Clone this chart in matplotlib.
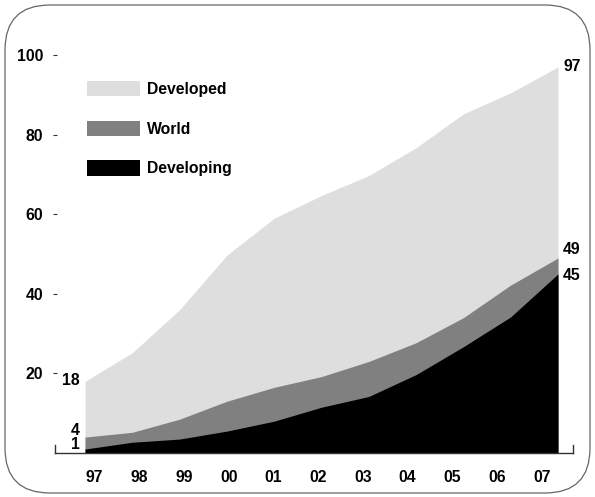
import numpy as np
import matplotlib
matplotlib.use("Agg")
import matplotlib.pyplot as plt
from matplotlib.patches import FancyBboxPatch, Patch
from matplotlib.transforms import IdentityTransform

years = ["97", "98", "99", "00", "01", "02", "03", "04", "05", "06", "07"]
developed = [18, 25.2, 36, 49.7, 59, 64.7, 69.7, 76.7, 85.2, 90.5, 97]
world = [4, 5.2, 8.5, 13, 16.5, 19.2, 23, 27.7, 34, 42.2, 49]
developing = [1, 2.7, 3.5, 5.5, 8, 11.5, 14.2, 19.7, 26.7, 34.2, 45]

series = [("Developed", developed, "#dedede"),
          ("World", world, "#808080"),
          ("Developing", developing, "#000000")]

plt.rcParams["font.family"] = ["Liberation Sans", "DejaVu Sans"]
plt.rcParams["font.weight"] = "bold"
FS = 11.3

W, H = 595, 497
fig = plt.figure(figsize=(W / 100, H / 100), dpi=100)

# rounded frame in pixel coordinates
frame = FancyBboxPatch((5, 4), 585, 488, boxstyle="round,pad=0,rounding_size=45",
                       transform=IdentityTransform(), fill=False,
                       edgecolor="#666666", lw=0.9)
fig.patches.append(frame)

ax = fig.add_axes([55 / W, 44 / H, (573 - 55) / W, (453 - 55) / H])
x = np.arange(len(years))
for name, vals, col in series:
    ax.fill_between(x, 0, vals, color=col, lw=0)

ax.set_ylim(0, 100)
ax.set_xlim(-30 / 47.3, 10 + 15 / 47.3)

ax.spines["top"].set_visible(False)
for s in ["left", "right", "bottom"]:
    ax.spines[s].set_color("#333333")
    ax.spines[s].set_linewidth(1.0)
ax.spines["left"].set_bounds(0, 2)
ax.spines["right"].set_bounds(0, 2)

ax.set_yticks([20, 40, 60, 80, 100])
ax.tick_params(axis="y", direction="inout", length=3, width=0.8, color="#333333",
               pad=7, labelsize=FS)
xt = 0.2 + 0.946 * x
ax.set_xticks(xt)
ax.set_xticklabels(years)
ax.tick_params(axis="x", length=0, pad=12, labelsize=FS)

# end labels
first = [(developed, 1), (world, 7), (developing, 5)]
for vals, dy in first:
    ax.annotate(f"{vals[0]:g}", (x[0], vals[0]), xytext=(-5, dy),
                textcoords="offset pixels", ha="right", va="center",
                fontsize=FS, fontweight="bold", annotation_clip=False)
last = [(developed, 0), (world, 8), (developing, -2)]
for vals, dy in last:
    ax.annotate(f"{vals[-1]:g}", (x[-1], vals[-1]), xytext=(5, dy),
                textcoords="offset pixels", ha="left", va="center",
                fontsize=FS, fontweight="bold", annotation_clip=False)

handles = [Patch(facecolor=col, edgecolor="none", label=name) for name, vals, col in series]
ax.legend(handles=handles, loc="upper left", bbox_to_anchor=(87 / W, 1 - 81 / H),
          bbox_transform=fig.transFigure, frameon=False, borderpad=0, borderaxespad=0,
          handlelength=3.4, handleheight=1.1, labelspacing=1.52, handletextpad=0.45,
          prop={"size": FS, "weight": "bold"})

fig.savefig("out.png", dpi=100)
